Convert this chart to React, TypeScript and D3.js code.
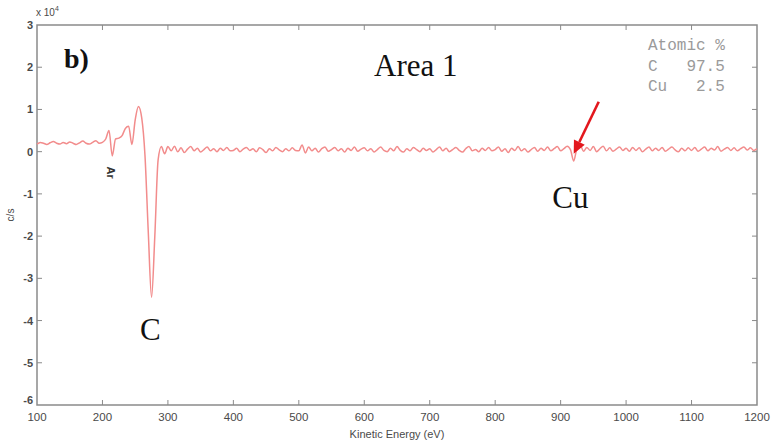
import { useEffect, useRef } from 'react';
import * as d3 from 'd3';

// spectrum sampled every 5 eV starting at 100 eV, values in units of 1e4 c/s
const energyStart = 100;
const energyStep = 5;
const signal = [
  // 100 - 195
  0.18, 0.22, 0.2, 0.17, 0.21, 0.24, 0.2, 0.18, 0.22, 0.19, 0.23, 0.2, 0.17, 0.21, 0.25, 0.2, 0.18, 0.22, 0.26, 0.2,
  // 200 - 295 (Ar, C)
  0.22, 0.3, 0.5, -0.1, 0.3, 0.32, 0.38, 0.55, 0.6, 0.17, 0.75, 1.07, 0.8, -0.1, -1.9, -3.45, -2.0, -0.2, 0.12, -0.05,
  // 300 - 395
  0.12, 0.02, 0.13, 0.0, 0.09, -0.02, 0.06, 0.12, 0.02, 0.08, -0.01, 0.05, 0.11, 0.02, 0.07, 0.0, 0.08, 0.03, 0.1, 0.02,
  // 400 - 495
  0.03, 0.08, 0.0, 0.06, 0.1, 0.03, 0.07, 0.0, 0.09, 0.05, -0.02, 0.07, 0.02, 0.1, 0.04, 0.0, 0.07, 0.02, 0.09, 0.03,
  // 500 - 595
  0.02, 0.16, -0.03, 0.11, 0.02, 0.08, -0.01, 0.07, 0.11, 0.01, 0.05, 0.1, 0.02, 0.07, -0.01, 0.08, 0.03, 0.11, 0.01, 0.06,
  // 600 - 695
  0.09, 0.02, 0.07, -0.01, 0.05, 0.11, 0.03, 0.0, 0.08, 0.02, 0.12, 0.03, -0.01, 0.07, 0.02, 0.1, 0.05, 0.0, 0.08, 0.03,
  // 700 - 795
  0.07, -0.01, 0.05, 0.11, 0.02, 0.08, 0.0, 0.05, 0.1, 0.03, -0.01, 0.07, 0.12, 0.02, 0.05, 0.0, 0.08, 0.03, 0.1, 0.02,
  // 800 - 895
  0.05, 0.11, 0.01, 0.07, -0.02, 0.08, 0.03, 0.12, 0.02, 0.07, -0.01, 0.05, 0.1, 0.01, 0.08, 0.03, 0.11, 0.02, 0.07, 0.12,
  // 900 - 995 (Cu)
  0.02, 0.07, 0.13, 0.05, -0.22, 0.08, 0.15, 0.01, 0.1, 0.03, 0.12, 0.0, 0.07, 0.13, 0.02, 0.09, 0.01, 0.06, 0.11, 0.03,
  // 1000 - 1095
  0.08, 0.01, 0.1, 0.03, 0.09, 0.0, 0.06, 0.11, 0.02, 0.08, 0.03, 0.1, 0.01, 0.06, 0.11, 0.04, 0.0, 0.08, 0.02, 0.09,
  // 1100 - 1200
  0.03, 0.1, 0.01, 0.06, 0.11, 0.02, 0.08, 0.04, 0.12, 0.01, 0.06, 0.1, 0.03, 0.09, 0.02, 0.07, 0.11, 0.04, 0.09, 0.03, 0.07
];

const xTicks = [100, 200, 300, 400, 500, 600, 700, 800, 900, 1000, 1100, 1200];
const yTicks = [-6, -5, -4, -3, -2, -1, 0, 1, 2, 3];

const atomicLines = ['Atomic %', 'C   97.5', 'Cu   2.5'];

// peak annotations: [label, energy, value at label baseline]
const peakLabels: [string, number, number][] = [
  ['C', 273, -4.45],
  ['Cu', 915, -1.33]
];

export default function App() {
  const svgRef = useRef<SVGSVGElement>(null);

  useEffect(() => {
    const svg = d3.select(svgRef.current);
    svg.selectAll('*').remove();

    const width = 773;
    const height = 447;
    const margin = { top: 25, right: 16, bottom: 42, left: 37 };

    const x = d3.scaleLinear().domain([100, 1200]).range([margin.left, width - margin.right]);
    const y = d3.scaleLinear().domain([-6, 3]).range([height - margin.bottom, margin.top]);

    const axisColor = '#8a8a8a';
    const labelColor = '#4a4a4a';

    svg.attr('width', width).attr('height', height);

    // frame
    svg.append('rect')
      .attr('x', x(100))
      .attr('y', y(3))
      .attr('width', x(1200) - x(100))
      .attr('height', y(-6) - y(3))
      .attr('fill', 'none')
      .attr('stroke', axisColor)
      .attr('stroke-width', 1.5);

    // inward ticks, all four sides
    const tk = 5;
    xTicks.slice(1, -1).forEach(t => {
      svg.append('line').attr('x1', x(t)).attr('x2', x(t)).attr('y1', y(-6)).attr('y2', y(-6) - tk)
        .attr('stroke', axisColor);
      svg.append('line').attr('x1', x(t)).attr('x2', x(t)).attr('y1', y(3)).attr('y2', y(3) + tk)
        .attr('stroke', axisColor);
    });
    yTicks.slice(1, -1).forEach(t => {
      svg.append('line').attr('x1', x(100)).attr('x2', x(100) + tk).attr('y1', y(t)).attr('y2', y(t))
        .attr('stroke', axisColor);
      svg.append('line').attr('x1', x(1200)).attr('x2', x(1200) - tk).attr('y1', y(t)).attr('y2', y(t))
        .attr('stroke', axisColor);
    });

    const tickFont = 'Arial, "Liberation Sans", sans-serif';

    xTicks.forEach(t => {
      svg.append('text')
        .attr('x', x(t))
        .attr('y', y(-6) + 16)
        .attr('text-anchor', 'middle')
        .attr('font-family', tickFont)
        .attr('font-size', 11.5)
        .attr('fill', labelColor)
        .text(t);
    });

    yTicks.forEach(t => {
      svg.append('text')
        .attr('x', x(100) - 4)
        .attr('y', y(t) + (t === -6 ? -1 : 4))
        .attr('text-anchor', 'end')
        .attr('font-family', tickFont)
        .attr('font-size', 11)
        .attr('font-weight', 'bold')
        .attr('fill', labelColor)
        .text(t);
    });

    // x 10^4 multiplier
    const mult = svg.append('text')
      .attr('x', x(100) - 1)
      .attr('y', 16)
      .attr('font-family', tickFont)
      .attr('font-size', 10)
      .attr('fill', labelColor);
    mult.append('tspan').text('x 10');
    mult.append('tspan').attr('dy', -5).attr('font-size', 7).text('4');

    svg.append('text')
      .attr('transform', `translate(14,${(y(-6) + y(3)) / 2}) rotate(-90)`)
      .attr('text-anchor', 'middle')
      .attr('font-family', tickFont)
      .attr('font-size', 10)
      .attr('fill', labelColor)
      .text('c/s');

    svg.append('text')
      .attr('x', (x(100) + x(1200)) / 2)
      .attr('y', height - 9)
      .attr('text-anchor', 'middle')
      .attr('font-family', tickFont)
      .attr('font-size', 11)
      .attr('fill', labelColor)
      .text('Kinetic Energy (eV)');

    // spectrum
    const line = d3.line<number>()
      .x((_, i) => x(energyStart + i * energyStep))
      .y(d => y(d))
      .curve(d3.curveMonotoneX);

    svg.append('path')
      .datum(signal)
      .attr('d', line)
      .attr('fill', 'none')
      .attr('stroke', '#f28c8c')
      .attr('stroke-width', 1.5);

    // annotations
    const serif = '"Times New Roman", "Liberation Serif", serif';

    svg.append('text')
      .attr('x', 64)
      .attr('y', 68)
      .attr('font-family', serif)
      .attr('font-weight', 'bold')
      .attr('font-size', 28)
      .attr('fill', '#111')
      .text('b)');

    svg.append('text')
      .attr('x', 374)
      .attr('y', 76)
      .attr('font-family', serif)
      .attr('font-size', 31)
      .attr('fill', '#111')
      .text('Area 1');

    peakLabels.forEach(([label, e, v]) => {
      svg.append('text')
        .attr('x', x(e))
        .attr('y', y(v))
        .attr('text-anchor', 'middle')
        .attr('font-family', serif)
        .attr('font-size', 31)
        .attr('fill', '#111')
        .text(label);
    });

    svg.append('text')
      .attr('transform', `translate(${x(215) - 5},${y(-0.35)}) rotate(90)`)
      .attr('font-family', tickFont)
      .attr('font-size', 11)
      .attr('font-weight', 'bold')
      .attr('fill', '#333')
      .text('Ar');

    atomicLines.forEach((s, i) => {
      svg.append('text')
        .attr('x', 648)
        .attr('y', 50 + i * 20.5)
        .attr('font-family', '"Liberation Mono", "DejaVu Sans Mono", monospace')
        .attr('font-size', 16)
        .attr('fill', '#9a9a9a')
        .style('white-space', 'pre')
        .text(s);
    });

    // red arrow pointing at the Cu feature
    const tipX = x(920);
    const tipY = y(-0.05);
    const startX = tipX + 25;
    const startY = tipY - 52;
    const ang = Math.atan2(tipY - startY, tipX - startX);
    const headLen = 13;
    const headW = 6;
    const baseX = tipX - headLen * Math.cos(ang);
    const baseY = tipY - headLen * Math.sin(ang);
    svg.append('line')
      .attr('x1', startX).attr('y1', startY)
      .attr('x2', baseX).attr('y2', baseY)
      .attr('stroke', '#e3171d')
      .attr('stroke-width', 2.6);
    svg.append('path')
      .attr('d', `M${tipX},${tipY}L${baseX + headW * Math.sin(ang)},${baseY - headW * Math.cos(ang)}L${baseX - headW * Math.sin(ang)},${baseY + headW * Math.cos(ang)}Z`)
      .attr('fill', '#e3171d');
  }, []);

  return <svg ref={svgRef} style={{ position: 'absolute', left: 0, top: 0, background: '#fff' }}></svg>;
}
